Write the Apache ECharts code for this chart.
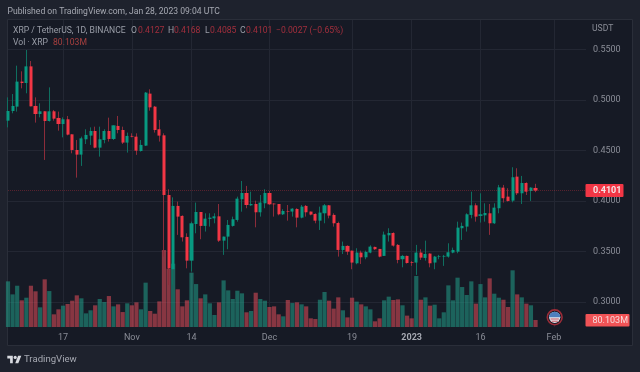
<!DOCTYPE html>
<html>
<head>
<meta charset="utf-8">
<title>XRP / TetherUS</title>
<script src="https://cdn.jsdelivr.net/npm/echarts@6/dist/echarts.min.js"></script>
<style>
html, body { margin: 0; padding: 0; background: #1e222d; }
#main { width: 640px; height: 372px; }
</style>
</head>
<body>
<div id="main"></div>
<script>
// daily candles, first one is 2022-10-05
var firstDay = '2022-10-05';
var opens = [.4793,.4889,.4932,.5180,.5166,.5331,.4939,.4859,.4886,.4790,.4886,.4820,.4760,.4807,.4658,.4503,.4457,.4609,.4645,.4691,
.4526,.4602,.4691,.4612,.4741,.4701,.4576,.4642,.4635,.4493,.4546,.5061,.4932,.4708,.4648,.4057,.3322,.3949,.3850,.3642,
.3407,.3770,.3889,.3751,.3820,.3826,.3846,.3605,.3645,.3751,.3810,.4015,.4077,.3955,.3968,.3886,.3975,.4077,.3972,.3968,
.3866,.3899,.3893,.3919,.3833,.3949,.3893,.3869,.3803,.3876,.3955,.3860,.3780,.3513,.3553,.3506,.3381,.3487,.3440,.3487,
.3543,.3523,.3454,.3658,.3681,.3563,.3421,.3454,.3391,.3388,.3487,.3434,.3477,.3388,.3444,.3447,.3447,.3487,.3496,.3728,
.3744,.3860,.3955,.3850,.3856,.3876,.3777,.3926,.4130,.4041,.4001,.4239,.4074,.4176,.4097,.4127];
var closes = [.4889,.4939,.5180,.5166,.5331,.4935,.4859,.4886,.4790,.4886,.4813,.4760,.4807,.4655,.4503,.4457,.4618,.4652,.4691,.4526,
.4609,.4691,.4612,.4747,.4701,.4576,.4642,.4635,.4496,.4553,.5071,.4925,.4701,.4645,.4057,.3331,.3949,.3843,.3638,.3407,
.3777,.3889,.3751,.3823,.3833,.3846,.3605,.3645,.3761,.3817,.4021,.4077,.3958,.3968,.3886,.3982,.4077,.3965,.3965,.3866,
.3899,.3893,.3922,.3833,.3942,.3886,.3863,.3803,.3883,.3955,.3853,.3777,.3513,.3553,.3496,.3388,.3487,.3440,.3493,.3546,
.3520,.3447,.3665,.3681,.3556,.3414,.3454,.3384,.3384,.3487,.3437,.3473,.3381,.3447,.3450,.3454,.3490,.3513,.3734,.3751,
.3866,.3955,.3843,.3866,.3879,.3777,.3932,.4133,.4025,.3998,.4233,.4074,.4176,.4090,.4130,.4101];
var lows = [.4727,.4866,.4883,.5113,.5064,.4935,.4774,.4826,.4404,.4784,.4793,.4694,.4628,.4648,.4470,.4229,.4345,.4562,.4553,.4520,
.4437,.4569,.4586,.4602,.4668,.4562,.4477,.4628,.4454,.4487,.4543,.4892,.4675,.4586,.3447,.3166,.3166,.3662,.3596,.3331,
.3299,.3678,.3619,.3695,.3744,.3777,.3592,.3464,.3520,.3744,.3793,.3892,.3926,.3949,.3737,.3843,.3926,.3958,.3843,.3856,
.3859,.3803,.3843,.3737,.3826,.3843,.3856,.3777,.3711,.3777,.3826,.3744,.3447,.3473,.3464,.3322,.3371,.3374,.3421,.3480,
.3513,.3440,.3454,.3596,.3546,.3381,.3341,.3378,.3355,.3266,.3414,.3407,.3341,.3322,.3421,.3355,.3437,.3480,.3480,.3612,
.3695,.3826,.3793,.3784,.3793,.3662,.3770,.3876,.3982,.3992,.3985,.4057,.3968,.4057,.3998,.4085];
var highs = [.5024,.5057,.5338,.5282,.5493,.5384,.5024,.4965,.4886,.5123,.4899,.4883,.4826,.4840,.4658,.4602,.4635,.4708,.4727,.4734,
.4734,.4708,.4823,.4747,.4840,.4734,.4675,.4668,.4668,.4602,.5077,.5104,.4939,.4800,.4668,.4114,.4034,.3992,.3856,.3678,
.3793,.3982,.3889,.3876,.3876,.3876,.3968,.3645,.3810,.3843,.4041,.4196,.4147,.4090,.4001,.4057,.4114,.4097,.3975,.3968,
.3916,.3958,.3926,.3926,.3958,.3958,.3893,.3876,.3942,.3968,.3958,.3876,.3793,.3596,.3559,.3506,.3530,.3506,.3506,.3559,
.3546,.3523,.3695,.3728,.3688,.3572,.3464,.3457,.3404,.3563,.3520,.3605,.3480,.3454,.3464,.3464,.3579,.3536,.3793,.3784,
.3876,.4090,.3975,.4074,.3975,.3968,.3975,.4157,.4157,.4124,.4332,.4322,.4246,.4183,.4134,.4168];
// volume in millions
var volumes = [522,373,472,305,335,472,408,225,545,411,145,202,244,263,301,362,328,156,191,248,
320,286,354,236,259,171,271,248,282,202,507,183,152,293,880,667,724,431,236,305,
621,491,328,373,271,137,282,533,419,320,415,385,168,183,392,320,301,229,236,145,
122,309,274,282,259,236,99,91,312,400,301,210,339,191,110,335,290,259,236,202,
65,99,305,347,309,316,248,130,99,583,312,339,244,255,99,168,476,305,564,457,
366,522,267,491,339,556,381,335,312,229,648,373,339,267,248,80.103];

var lastDay = '2023-02-08';
var priceTicks = [0.30, 0.35, 0.40, 0.45, 0.50, 0.55];
var dateTicks = ['2022-10-17', '2022-11-01', '2022-11-14', '2022-12-01', '2022-12-19', '2023-01-01', '2023-01-16', '2023-02-01'];
var dateLabels = ['17', 'Nov', '14', 'Dec', '19', '2023', '16', 'Feb'];
var lastPrice = 0.4101;

var UP = '#089981', DOWN = '#f23645';
var FONT = 'Roboto, sans-serif';
var DAY = 86400000;

// x axis counts days since firstDay
function dayIndex(d) {
	return Math.round((echarts.time.parse(d).getTime() - echarts.time.parse(firstDay).getTime()) / DAY);
}
var tickDays = dateTicks.map(dayIndex);

var wickData = opens.map(function(o, i) { return [i, o, closes[i], lows[i], highs[i]]; });
var bodyData = opens.map(function(o, i) {
	return [i, o, closes[i], Math.min(o, closes[i]), Math.max(o, closes[i])];
});
var volData = opens.map(function(o, i) {
	return {
		value: [i, volumes[i]],
		itemStyle: { color: closes[i] >= o ? 'rgba(34,171,148,0.5)' : 'rgba(247,82,95,0.5)' }
	};
});

function txt(text, x, y, color, size, weight) {
	return {
		type: 'text', x: x, y: y, silent: true, z: 20,
		style: { text: text, fill: color, font: (weight || 'normal') + ' ' + (size || 8.6) + 'px ' + FONT, textVerticalAlign: 'middle' }
	};
}

var GREY = '#9a9ea8', RED = '#a32f3d', LOGO = '#d8dae0';
var graphic = [
	{ type: 'rect', z: -10, silent: true, shape: { x: 7.5, y: 19.5, width: 625, height: 326 }, style: { fill: '#161a25', stroke: '#2a2e39', lineWidth: 1 } },
	txt('Published on TradingView.com, Jan 28, 2023 09:04 UTC', 7.5, 11.5, '#a6a9b2'),
	txt('XRP / TetherUS, 1D, BINANCE', 13, 31, GREY),
	txt('O', 131, 31, GREY), txt('0.4127', 138, 31, RED),
	txt('H', 168, 31, GREY), txt('0.4168', 174, 31, RED),
	txt('L', 205, 31, GREY), txt('0.4085', 210, 31, RED),
	txt('C', 240, 31, GREY), txt('0.4101', 246, 31, RED),
	txt('\u22120.0027 (\u22120.65%)', 276, 31, RED),
	txt('Vol \u00b7 XRP', 13, 43, GREY),
	txt('80.103M', 53, 43, '#a8403f'),
	txt('USDT', 592, 29, '#8a8d97'),
	// last price tag
	{ type: 'rect', z: 15, silent: true, shape: { x: 585.5, y: 184, width: 38, height: 13, r: 1 }, style: { fill: DOWN } },
	txt('0.4101', 593, 190.7, '#f4e4e6', 9, 'bold'),
	// volume tag
	{ type: 'rect', z: 15, silent: true, shape: { x: 585.5, y: 314, width: 44, height: 12.5, r: 1 }, style: { fill: '#f05356' } },
	txt('80.103M', 592.5, 320.5, '#f6dcdc', 9),
	// country flag marker
	{ type: 'circle', z: 15, silent: true, shape: { cx: 554.7, cy: 317.3, r: 7.4 }, style: { fill: '#161a25', stroke: '#9c2c38', lineWidth: 1.6 } },
	{ type: 'circle', z: 16, silent: true, shape: { cx: 554.7, cy: 317.3, r: 5.6 }, style: { fill: '#e4e8ee' } },
	{ type: 'sector', z: 17, silent: true, shape: { cx: 554.7, cy: 317.3, r: 5.6, startAngle: Math.PI, endAngle: 2 * Math.PI }, style: { fill: '#4f7fbd' } },
	{ type: 'rect', z: 17, silent: true, shape: { x: 550.5, y: 318.5, width: 8.4, height: 1 }, style: { fill: '#c9535e' } },
	{ type: 'rect', z: 17, silent: true, shape: { x: 551.5, y: 320.7, width: 6.4, height: 1 }, style: { fill: '#c9535e' } },
	// TradingView logo
	{ type: 'polygon', z: 20, silent: true, shape: { points: [[7.3, 355.7], [12.8, 355.7], [12.8, 363.3], [10.1, 363.3], [10.1, 358.6], [7.3, 358.6]] }, style: { fill: LOGO } },
	{ type: 'circle', z: 20, silent: true, shape: { cx: 15.2, cy: 357.4, r: 1.6 }, style: { fill: LOGO } },
	{ type: 'polygon', z: 20, silent: true, shape: { points: [[15.2, 363.3], [18.1, 355.7], [21.3, 355.7], [18.3, 363.3]] }, style: { fill: LOGO } },
	txt('TradingView', 24, 360, '#a6a9b2', 9.6)
];

var chart = echarts.init(document.getElementById('main'), null, { renderer: 'canvas' });
var option = {
	animation: false,
	backgroundColor: '#1e222d',
	textStyle: { fontFamily: FONT },
	graphic: graphic,
	grid: { left: 8, top: 20, width: 578, height: 307, containLabel: false },
	xAxis: {
		type: 'value',
		min: 0,
		max: dayIndex(lastDay),
		axisLine: { show: false },
		axisTick: { show: false, customValues: tickDays },
		splitLine: { show: true, lineStyle: { color: '#232733', width: 1 } },
		axisLabel: {
			customValues: tickDays,
			margin: 6,
			fontSize: 9,
			color: '#8a8d97',
			hideOverlap: false,
			formatter: function(val) {
				var label = dateLabels[tickDays.indexOf(val)];
				return label === '2023' ? '{b|2023}' : label;
			},
			rich: { b: { fontSize: 9, fontWeight: 'bold', color: '#a6a9b2' } }
		}
	},
	yAxis: [{
		type: 'value',
		position: 'right',
		min: 0.275,
		max: 0.579,
		axisLine: { show: false },
		axisTick: { show: false, customValues: priceTicks },
		splitLine: { show: true, lineStyle: { color: '#232733', width: 1 } },
		axisLabel: {
			customValues: priceTicks,
			margin: 7,
			fontSize: 9,
			color: '#8a8d97',
			formatter: function(v) { return v.toFixed(4); }
		}
	}, {
		type: 'value',
		show: false,
		min: 0,
		max: 3510,
		splitLine: { show: false }
	}],
	series: [{
		name: 'Vol',
		type: 'bar',
		yAxisIndex: 1,
		barWidth: 4.2,
		data: volData
	}, {
		name: 'wicks',
		type: 'candlestick',
		barWidth: 1,
		itemStyle: { color: '#0f6f60', color0: '#8c2c3a', borderColor: '#0f6f60', borderColor0: '#8c2c3a', borderWidth: 1 },
		data: wickData,
		markLine: {
			silent: true,
			symbol: 'none',
			label: { show: false },
			lineStyle: { color: 'rgba(242,54,69,0.3)', type: [1, 1], width: 1 },
			data: [{ yAxis: lastPrice }]
		}
	}, {
		name: 'XRP',
		type: 'candlestick',
		barWidth: 3.6,
		itemStyle: { color: UP, color0: DOWN, borderColor: UP, borderColor0: DOWN, borderWidth: 0 },
		data: bodyData
	}]
};
chart.setOption(option);
</script>
</body>
</html>
